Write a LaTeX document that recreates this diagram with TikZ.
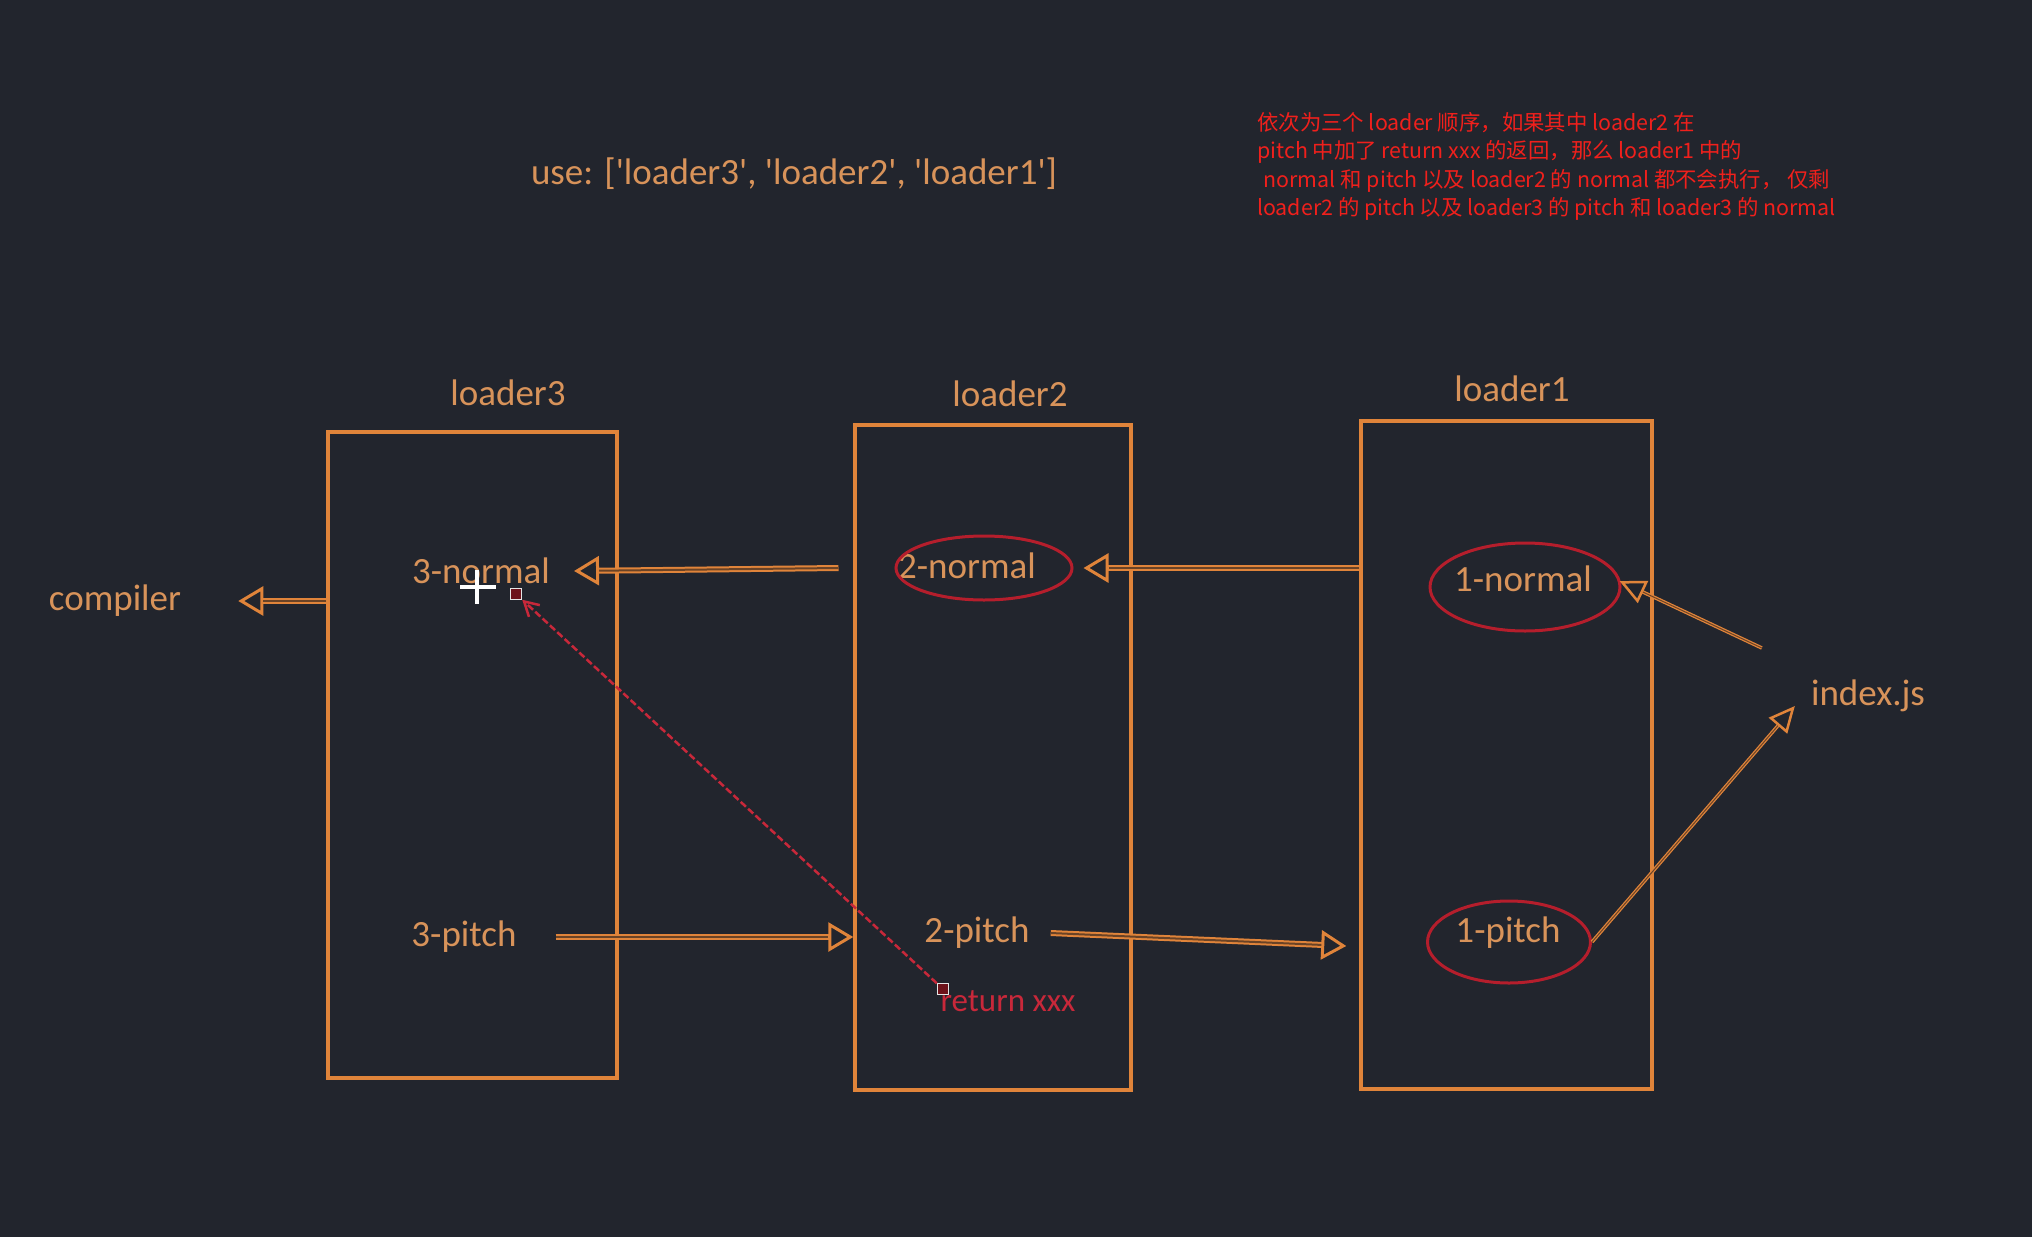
\documentclass[tikz,border=0pt]{standalone}
\usepackage{fontspec}
\setmainfont{Carlito}
\newfontfamily\cjk{Noto Sans CJK SC}
\usetikzlibrary{shapes,shapes.geometric,calc,arrows.meta}
\definecolor{bgdark}{HTML}{22252D}
\definecolor{boxor}{HTML}{E0843A}
\definecolor{txtor}{HTML}{D8935A}
\definecolor{shaftin}{HTML}{6A4326}
\definecolor{ringred}{HTML}{B51E2C}
\definecolor{notered}{HTML}{F0201C}
\definecolor{retred}{HTML}{C8283A}
\newcommand{\sq}{\textquotesingle}
\tikzset{
  lbl/.style = {text=txtor, font=\fontsize{37}{40}\selectfont, inner sep=0pt},
  ldrbox/.style = {rectangle, draw=boxor, line width=3.5pt, inner sep=0pt},
  redring/.style = {ellipse, draw=ringred, line width=3pt, inner sep=0pt},
  flow/.style = {draw=boxor, line width=6pt,
    -{Triangle[open, length=25pt, width=29pt, line width=3pt]},
    postaction={draw=shaftin, line width=2pt, -, shorten >=25pt}},
  flowthin/.style = {draw=boxor, line width=3.5pt,
    -{Triangle[open, length=26pt, width=24pt, line width=2.5pt]},
    postaction={draw=shaftin, line width=1pt, -, shorten >=26pt}},
  handle/.style = {rectangle, draw=white!80!gray, fill=ringred!60!black, line width=1.5pt, minimum size=11pt, inner sep=0pt},
  retline/.style = {draw=retred, line width=2.5pt, dash pattern=on 7pt off 3pt}
}
\begin{document}
\begin{tikzpicture}[x=1pt, y=-1pt]
  \useasboundingbox (0,0) rectangle (2032,1237);
  \fill[bgdark] (0,0) rectangle (2032,1237);

  \node [lbl] (use) at (794,174) {use: [\sq loader3\sq, \sq loader2\sq, \sq loader1\sq]};
  \node [anchor=north west, align=left, text=notered, inner sep=0pt,
    font=\cjk\fontsize{21.4}{28.5}\selectfont] (note) at (1257,112)
    {依次为三个 loader 顺序，如果其中 loader2 在\\
     pitch 中加了 return xxx 的返回，那么 loader1 中的\\
     \hspace*{0.3em}normal 和 pitch 以及 loader2 的 normal 都不会执行， 仅剩\\
     loader2 的 pitch 以及 loader3 的 pitch 和 loader3 的 normal};

	% the three loaders
  \node [ldrbox, minimum width=289pt, minimum height=646pt] (box3) at (472.5,755) {};
  \node [ldrbox, minimum width=276pt, minimum height=665pt] (box2) at (993,757.5) {};
  \node [ldrbox, minimum width=291pt, minimum height=668pt] (box1) at (1506.5,755) {};
  \node [lbl] (lab3) at (508,393) {loader3};
  \node [lbl] (lab2) at (1010,394) {loader2};
  \node [lbl] (lab1) at (1512,389) {loader1};

  \node [lbl] (compiler) at (115,601) {compiler};
  \node [lbl] (idx) at (1868,696) {index.js};

  \node [lbl] (n3) at (481,571) {3-normal};
  \node [lbl] (p3) at (464,937) {3-pitch};
  \node [lbl] (n2) at (967,566) {2-normal};
  \node [lbl] (p2) at (977,933) {2-pitch};
  \node [lbl] (n1) at (1523,579) {1-normal};
  \node [lbl] (p1) at (1508,933) {1-pitch};
  \node [text=retred, font=\fontsize{33}{36}\selectfont, inner sep=0pt] (ret) at (1008,1001) {return xxx};

  \node [redring, minimum width=176pt, minimum height=64pt] (e2) at (984,568) {};
  \node [redring, minimum width=190pt, minimum height=88pt] (e1) at (1525,587) {};
  \node [redring, minimum width=163pt, minimum height=82pt] (ep1) at (1509,942) {};

	% normal flow
  \draw [flow] (box3.west |- compiler) -- ([xshift=57pt]compiler.east);
  \draw [flow] ([xshift=-56pt]e2.west) -- ([xshift=24pt]n3.east);
  \draw [flow] (box1.west |- e2.east) -- ([xshift=10pt]e2.east);
  \draw [flowthin] ($(idx.west)+(-49,-48)$) -- ($(e1.east)+(-2,-6)$);
	% pitch flow
  \draw [flowthin] (ep1.east) -- ($(idx.west)+(-16,10)$);
  \draw [flow] ([xshift=39pt]p3.east) -- (box2.west |- p3.east);
  \draw [flow] ([xshift=21pt]p2.east) -- ($(box1.west |- p2.east)+(-13,13)$);

	% return xxx skips back to 3-normal
  \node [handle] (hret) at (943,989) {};
  \node [handle] (hn3) at (516,594) {};
  \draw [retline, -{Straight Barb[length=14pt, width=16pt]}] (hret) -- (hn3);

  \draw [white, line width=4pt] (460,587) -- (496,587) (477,570) -- (477,604);
\end{tikzpicture}
\end{document}
